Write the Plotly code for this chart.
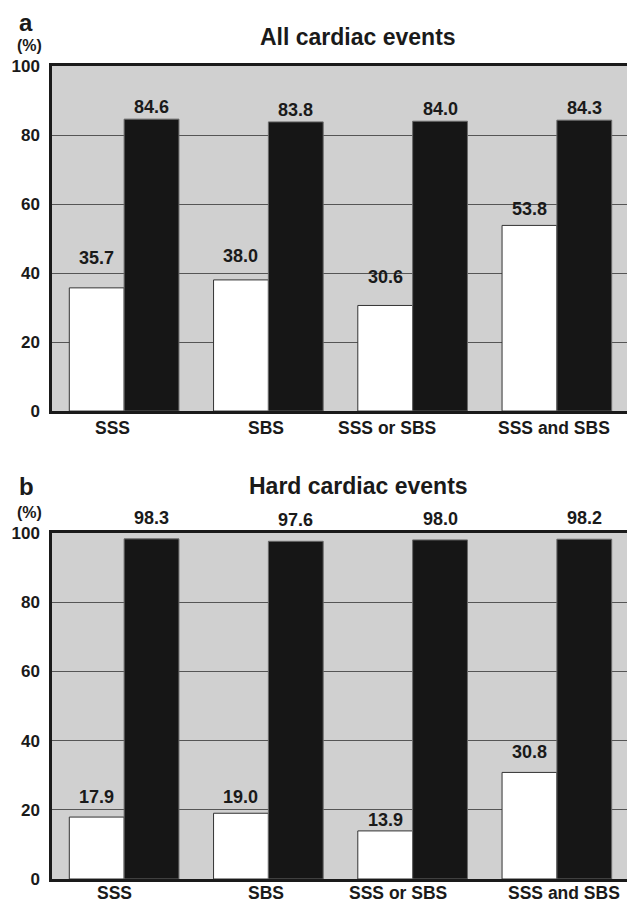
import plotly.graph_objects as go

categories = ["SSS", "SBS", "SSS or SBS", "SSS and SBS"]
all_white = [35.7, 38.0, 30.6, 53.8]
all_black = [84.6, 83.8, 84.0, 84.3]
hard_white = [17.9, 19.0, 13.9, 30.8]
hard_black = [98.3, 97.6, 98.0, 98.2]
y_ticks = [0, 20, 40, 60, 80, 100]
panel_letters = ["a", "b"]
panel_titles = ["All cardiac events", "Hard cardiac events"]

FONT = "Liberation Sans, Arial, Helvetica, sans-serif"
TXT = "#1a1a1a"

# page body has an 8px default margin, so the figure is slightly smaller than the window
W, H = 627, 896

fig = go.Figure()

panels = [(all_white, all_black, "x", "y"), (hard_white, hard_black, "x2", "y2")]
for w, b, xa, ya in panels:
    fig.add_trace(go.Bar(x=categories, y=w, xaxis=xa, yaxis=ya,
                         marker=dict(color="white", line=dict(color="#333333", width=1)),
                         showlegend=False, cliponaxis=False))
    fig.add_trace(go.Bar(x=categories, y=b, xaxis=xa, yaxis=ya,
                         marker=dict(color="#161616", line=dict(color="#6a6a6a", width=1)),
                         showlegend=False, cliponaxis=False))

ann = []
half = 0.19
# distance (px) from bar top to label centre, as hand-placed in the original
label_gap = {
    ("x", "w"): [30, 24, 28, 16],
    ("x", "b"): [12, 12, 12, 12],
    ("x2", "w"): [20, 16, 11, 20],
    ("x2", "b"): [21, 21, 21, 21],
}
VAL_SIZE = 18
for w, b, xa, ya in panels:
    for i, (vw, vb) in enumerate(zip(w, b)):
        for val, off, key in ((vw, -half, "w"), (vb, half, "b")):
            ann.append(dict(x=i + off, y=val, xref=xa, yref=ya, text=f"{val:.1f}",
                            showarrow=False, yanchor="middle", yshift=label_gap[(xa, key)][i],
                            font=dict(family=FONT, size=VAL_SIZE, color=TXT, weight="bold")))

# category labels (hand-placed in the original)
cat_shift = {"x": [-12, -2, -26, -3], "x2": [-10, -2, -15, 7]}
cat_down = {"x": -17, "x2": -14}
for xa, ya in (("x", "y"), ("x2", "y2")):
    for i, c in enumerate(categories):
        ann.append(dict(x=i, y=0, xref=xa, yref=ya, text=c, showarrow=False,
                        yanchor="middle", yshift=cat_down[xa], xshift=cat_shift[xa][i],
                        borderpad=0,
                        font=dict(family=FONT, size=17.5, color=TXT, weight="bold")))

# panel letters, units, titles
tops = [1.0, 0.4256]
letter_up = [44, 46]
unit_up = [21, 20]
title_up = [29, 47]
for k in range(2):
    t = tops[k]
    ann.append(dict(x=-0.0448, y=t, xref="paper", yref="paper", text=panel_letters[k],
                    showarrow=False, xanchor="center", yanchor="middle", yshift=letter_up[k],
                    font=dict(family=FONT, size=24, color=TXT, weight="bold")))
    ann.append(dict(x=-0.0397, y=t, xref="paper", yref="paper", text="(%)",
                    showarrow=False, xanchor="center", yanchor="middle", yshift=unit_up[k],
                    font=dict(family=FONT, size=16, color=TXT, weight="bold")))
    ann.append(dict(x=0.531, y=t, xref="paper", yref="paper", text=panel_titles[k],
                    showarrow=False, xanchor="center", yanchor="middle", yshift=title_up[k],
                    font=dict(family=FONT, size=23, color=TXT, weight="bold")))

axis_common = dict(showline=True, linecolor="#1a1a1a", linewidth=2.5, mirror=True)
yaxis_common = dict(range=[0, 100], tickvals=y_ticks, showgrid=True, gridcolor="#555555",
                    gridwidth=1, zeroline=False, ticks="", ticklabelstandoff=6,
                    tickfont=dict(family=FONT, size=17, color=TXT, weight="bold"),
                    **axis_common)
xaxis_common = dict(range=[-0.5, 3.5], showticklabels=False, ticks="", showgrid=False,
                    **axis_common)

fig.update_layout(
    width=W, height=H,
    margin=dict(l=44, r=3, t=58, b=25),
    paper_bgcolor="white",
    plot_bgcolor="#d0d0d0",
    barmode="group", bargap=0.24, bargroupgap=0,
    xaxis=dict(domain=[0, 1], anchor="y", **xaxis_common),
    yaxis=dict(domain=[0.5756, 1.0], anchor="x", **yaxis_common),
    xaxis2=dict(domain=[0, 1], anchor="y2", **xaxis_common),
    yaxis2=dict(domain=[0.0, 0.4256], anchor="x2", **yaxis_common),
    annotations=ann,
    font=dict(family=FONT, color=TXT),
)

fig.write_html("out.html")
